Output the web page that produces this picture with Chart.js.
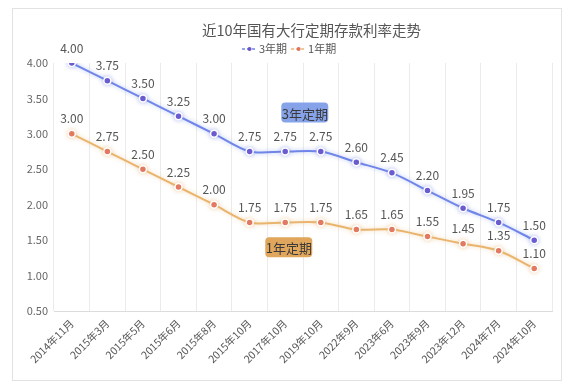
<!DOCTYPE html>
<html>
<head>
<meta charset="utf-8">
<script src="https://cdn.jsdelivr.net/npm/chart.js@4/dist/chart.umd.min.js"></script>
<style>
  body { margin: 0; background: #fff; }
  #wrap { position: relative; width: 572px; height: 390px; }
  #card { position: absolute; left: 12px; top: 8px; width: 548px; height: 371px; border: 1px solid #e2e2e2; }
  #chart { position: absolute; left: 0; top: 0; }
</style>
</head>
<body>
<div id="wrap">
  <div id="card"></div>
  <canvas id="chart" width="572" height="390"></canvas>
</div>
<script>
const fontFamily = '"Noto Sans CJK SC", "Microsoft YaHei", sans-serif';

const chartTitle = '近10年国有大行定期存款利率走势';
const labels = ['2014年11月', '2015年3月', '2015年5月', '2015年6月', '2015年8月', '2015年10月',
  '2017年10月', '2019年10月', '2022年9月', '2023年6月', '2023年9月', '2023年12月', '2024年7月', '2024年10月'];
const rate3y = [4.00, 3.75, 3.50, 3.25, 3.00, 2.75, 2.75, 2.75, 2.60, 2.45, 2.20, 1.95, 1.75, 1.50];
const rate1y = [3.00, 2.75, 2.50, 2.25, 2.00, 1.75, 1.75, 1.75, 1.65, 1.65, 1.55, 1.45, 1.35, 1.10];
const yTicks = [0.5, 1.0, 1.5, 2.0, 2.5, 3.0, 3.5, 4.0];

// callout boxes: [text, category position, value, fill]
const callouts = [
  ['3年定期', 6.55, 3.30, '#86a3ea'],
  ['1年定期', 6.1, 1.40, '#e0a65c']
];

const lineColors = ['#6f86e8', '#e9b56e'];
const dotColors = ['#6a52cc', '#e0705f'];

// title + legend drawn by hand (the original is not centred on the plot)
const headerPlugin = {
  id: 'header',
  afterDraw(chart) {
    const ctx = chart.ctx;
    ctx.save();
    ctx.fillStyle = '#555';
    ctx.textBaseline = 'middle';
    ctx.textAlign = 'center';
    ctx.font = '14.5px ' + fontFamily;
    ctx.fillText(chartTitle, 311.5, 30);

    ctx.font = '11px ' + fontFamily;
    ctx.textAlign = 'left';
    let x = 242;
    const y = 49;
    chart.data.datasets.forEach((ds, i) => {
      ctx.strokeStyle = lineColors[i];
      ctx.lineWidth = 1.5;
      ctx.setLineDash([3, 2]);
      ctx.beginPath(); ctx.moveTo(x, y); ctx.lineTo(x + 15, y); ctx.stroke();
      ctx.setLineDash([]);
      ctx.fillStyle = dotColors[i];
      ctx.beginPath(); ctx.arc(x + 7.5, y, 2, 0, Math.PI * 2); ctx.fill();
      ctx.fillStyle = '#555';
      ctx.fillText(ds.label, x + 17, y);
      x += 17 + ctx.measureText(ds.label).width + 4;
    });
    ctx.restore();
  }
};

const glowPlugin = {
  id: 'glow',
  beforeDatasetDraw(chart, args) {
    const ctx = chart.ctx;
    ctx.save();
    ctx.shadowColor = args.index === 0 ? 'rgba(120,140,235,0.5)' : 'rgba(235,180,110,0.5)';
    ctx.shadowBlur = 4;
  },
  afterDatasetDraw(chart) {
    chart.ctx.restore();
  }
};

const valueLabelPlugin = {
  id: 'valueLabels',
  afterDatasetsDraw(chart) {
    const ctx = chart.ctx;
    ctx.save();
    ctx.font = '12px ' + fontFamily;
    ctx.fillStyle = '#555';
    ctx.textAlign = 'center';
    ctx.textBaseline = 'middle';
    chart.data.datasets.forEach((ds, i) => {
      chart.getDatasetMeta(i).data.forEach((pt, j) => {
        ctx.fillText(ds.data[j].toFixed(2), pt.x, pt.y - 15);
      });
    });
    ctx.restore();
  }
};

const calloutPlugin = {
  id: 'callouts',
  afterDatasetsDraw(chart) {
    const ctx = chart.ctx;
    const xs = chart.scales.x, ys = chart.scales.y;
    ctx.save();
    ctx.font = '13px ' + fontFamily;
    ctx.textAlign = 'center';
    ctx.textBaseline = 'middle';
    callouts.forEach(([text, pos, val, fill]) => {
      const cx = xs.getPixelForValue(pos);
      const cy = ys.getPixelForValue(val);
      const w = 47, h = 20;
      ctx.fillStyle = fill;
      ctx.beginPath();
      ctx.roundRect(cx - w / 2, cy - h / 2, w, h, 4);
      ctx.fill();
      ctx.fillStyle = '#3a3a3a';
      ctx.fillText(text, cx, cy + 1);
    });
    ctx.restore();
  }
};

new Chart(document.getElementById('chart'), {
  type: 'line',
  data: {
    labels: labels,
    datasets: [
      {
        label: '3年期',
        data: rate3y,
        borderColor: lineColors[0],
        borderWidth: 2,
        pointBackgroundColor: dotColors[0],
        pointBorderColor: '#ffffff',
        pointBorderWidth: 1.5,
        pointRadius: 3.5,
        tension: 0.3
      },
      {
        label: '1年期',
        data: rate1y,
        borderColor: lineColors[1],
        borderWidth: 2,
        pointBackgroundColor: dotColors[1],
        pointBorderColor: '#ffffff',
        pointBorderWidth: 1.5,
        pointRadius: 3.5,
        tension: 0.3
      }
    ]
  },
  options: {
    responsive: false,
    animation: false,
    layout: { padding: { top: 63, right: 20, left: 0, bottom: 0 } },
    plugins: {
      title: { display: false },
      legend: { display: false },
      tooltip: { enabled: false }
    },
    scales: {
      x: {
        offset: true,
        grid: { offset: true, color: '#ebebeb', drawTicks: false },
        border: { color: '#dcdcdc' },
        ticks: {
          color: '#555',
          font: { family: fontFamily, size: 10.5 },
          maxRotation: 45,
          minRotation: 45,
          padding: 6
        },
        afterFit(scale) {
          scale.height = 79;
          scale.paddingLeft = 0;
          scale.paddingRight = 0;
        }
      },
      y: {
        min: 0.5,
        max: 4.0,
        afterBuildTicks(scale) { scale.ticks = yTicks.map(v => ({ value: v })); },
        grid: { display: false, drawTicks: false },
        border: { display: false },
        ticks: {
          color: '#666',
          font: { family: fontFamily, size: 11 },
          padding: 6,
          callback: v => v.toFixed(2)
        },
        afterFit(scale) {
          scale.width = 54;
          scale.paddingTop = 0;
          scale.paddingBottom = 0;
        }
      }
    }
  },
  plugins: [glowPlugin, valueLabelPlugin, calloutPlugin, headerPlugin]
});
</script>
</body>
</html>
